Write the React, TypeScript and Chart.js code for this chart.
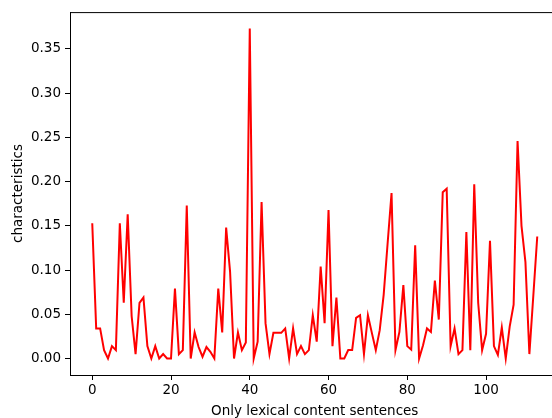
import React, { useEffect, useRef } from "react";
import { Chart, registerables } from "chart.js";

Chart.register(...registerables);

// Series values (index 0..113)
const characteristics: number[] = [
  0.153, 0.034, 0.034, 0.0095, 0.0, 0.014, 0.0095, 0.153, 0.063, 0.163,
  0.048, 0.005, 0.063, 0.069, 0.014, 0.0, 0.014, 0.0, 0.005, 0.0,
  0.0, 0.079, 0.005, 0.0095, 0.173, 0.0, 0.0295, 0.013, 0.002, 0.013,
  0.0076, 0.0, 0.079, 0.0295, 0.148, 0.098, 0.0, 0.0295, 0.0095, 0.018,
  0.373, 0.0, 0.019, 0.177, 0.04, 0.005, 0.029, 0.029, 0.029, 0.034,
  0.0, 0.034, 0.005, 0.014, 0.005, 0.0095, 0.049, 0.019, 0.104, 0.04,
  0.168, 0.014, 0.069, 0.0, 0.0, 0.0095, 0.0095, 0.046, 0.049, 0.005,
  0.049, 0.029, 0.0095, 0.032, 0.072, 0.13, 0.187, 0.0095, 0.03, 0.083,
  0.014, 0.01, 0.128, 0.0, 0.015, 0.034, 0.03, 0.088, 0.044, 0.188,
  0.192, 0.014, 0.034, 0.005, 0.0095, 0.143, 0.0095, 0.197, 0.063, 0.0095,
  0.028, 0.133, 0.014, 0.004, 0.035, 0.0, 0.036, 0.061, 0.246, 0.15,
  0.109, 0.005, 0.071, 0.138,
];

const xTicks: number[] = [0, 20, 40, 60, 80, 100];
const yTicks: number[] = [0, 0.05, 0.1, 0.15, 0.2, 0.25, 0.3, 0.35];
const xLabel = "Only lexical content sentences";
const yLabel = "characteristics";

const FONT = "'DejaVu Sans', sans-serif";
const FS = 13.5;

const spinePlugin = {
  id: "spines",
  afterDraw(chart: any) {
    const { ctx, chartArea } = chart;
    ctx.save();
    ctx.strokeStyle = "#000";
    ctx.lineWidth = 1;
    ctx.beginPath();
    ctx.moveTo(chartArea.left, chartArea.top + 0.5);
    ctx.lineTo(chartArea.right, chartArea.top + 0.5);
    ctx.moveTo(Math.round(chartArea.right) + 0.5, chartArea.top);
    ctx.lineTo(Math.round(chartArea.right) + 0.5, chartArea.bottom);
    ctx.stroke();
    ctx.restore();
  },
};

export default function App() {
  const ref = useRef<HTMLCanvasElement | null>(null);

  useEffect(() => {
    if (!ref.current) return;
    const n = characteristics.length;
    const xMargin = 0.05 * (n - 1);
    const yMaxData = Math.max(...characteristics);
    const yMinData = Math.min(...characteristics);
    const yMargin = 0.05 * (yMaxData - yMinData);

    const chart = new Chart(ref.current, {
      type: "line",
      data: {
        datasets: [
          {
            data: characteristics.map((v, i) => ({ x: i, y: v })),
            borderColor: "#ff0000",
            borderWidth: 2,
            pointRadius: 0,
            tension: 0,
            fill: false,
          },
        ],
      },
      options: {
        responsive: false,
        animation: false,
        devicePixelRatio: 1,
        layout: { padding: { left: 0, top: 11, right: 10.5, bottom: 0 } },
        plugins: {
          legend: { display: false },
          tooltip: { enabled: false },
        },
        scales: {
          x: {
            type: "linear",
            min: -xMargin,
            max: n - 1 + xMargin,
            afterBuildTicks: (axis: any) => {
              axis.ticks = xTicks.map((v) => ({ value: v }));
            },
            afterFit: (axis: any) => {
              axis.height = 43;
            },
            ticks: {
              color: "#000",
              font: { family: FONT, size: FS },
              padding: 2,
              maxRotation: 0,
              callback: (v: any) => String(v),
            },
            grid: {
              drawOnChartArea: false,
              drawTicks: true,
              tickLength: 5,
              color: "#000",
            },
            border: { display: true, color: "#000", width: 1 },
            title: {
              display: true,
              text: xLabel,
              color: "#000",
              font: { family: FONT, size: FS },
              padding: { top: 0, bottom: -2 },
            },
          },
          y: {
            type: "linear",
            min: yMinData - yMargin,
            max: yMaxData + yMargin,
            afterBuildTicks: (axis: any) => {
              axis.ticks = yTicks.map((v) => ({ value: v }));
            },
            afterFit: (axis: any) => {
              axis.width = 70;
            },
            ticks: {
              color: "#000",
              font: { family: FONT, size: FS },
              padding: 4,
              callback: (v: any) => Number(v).toFixed(2),
            },
            grid: {
              drawOnChartArea: false,
              drawTicks: true,
              tickLength: 5,
              color: "#000",
            },
            border: { display: true, color: "#000", width: 1 },
            title: {
              display: true,
              text: yLabel,
              color: "#000",
              font: { family: FONT, size: FS },
              padding: { top: 10.4, bottom: 0 },
            },
          },
        },
      },
      plugins: [spinePlugin],
    } as any);
    return () => chart.destroy();
  }, []);

  return (
    <div style={{ position: "fixed", left: 0, top: 0, width: 570, height: 418, background: "#fff" }}>
      <canvas ref={ref} width={570} height={418} style={{ width: 570, height: 418, display: "block" }} />
    </div>
  );
}
